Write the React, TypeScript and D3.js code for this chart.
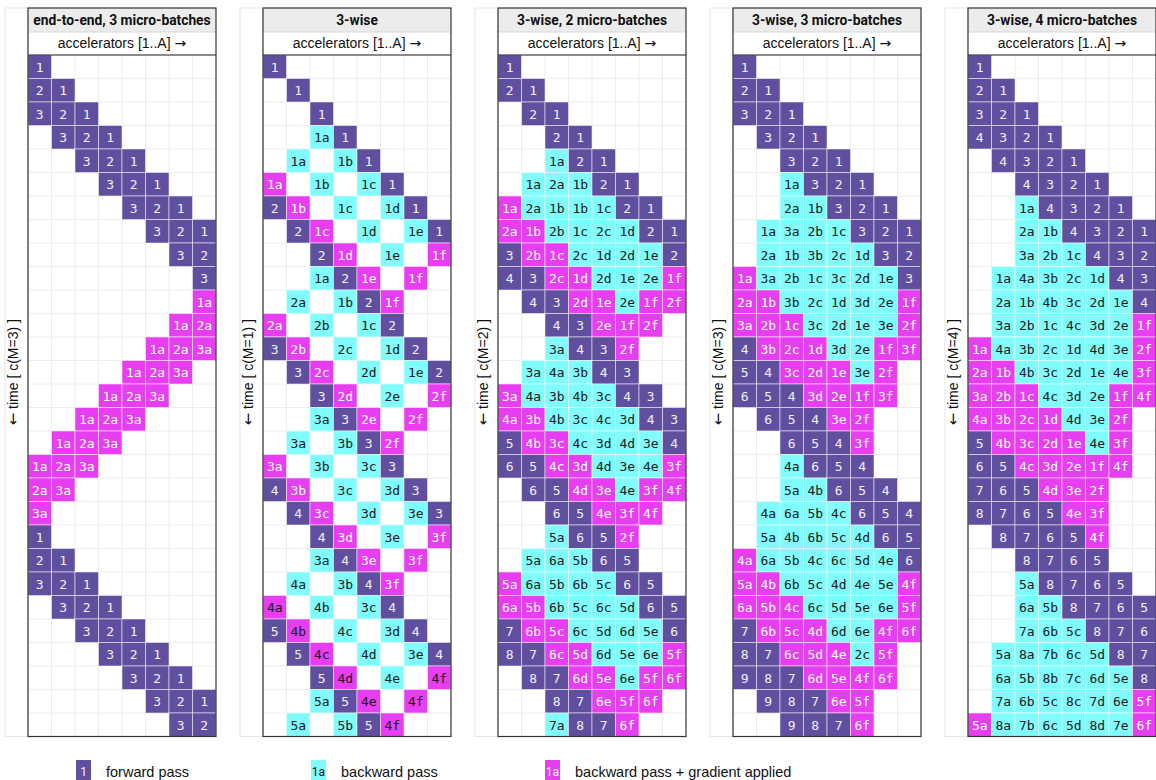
import React from "react";
import * as d3 from "d3";

// ---- data ----
// token: "." empty, digits = forward pass, "1a" = backward pass,
// "1a*" = backward + gradient applied, "1a+" = same with dark label
const titles = [
  "end-to-end, 3 micro-batches",
  "3-wise",
  "3-wise, 2 micro-batches",
  "3-wise, 3 micro-batches",
  "3-wise, 4 micro-batches",
];
const mValues = [3, 1, 2, 3, 4];
const accelerators = d3.range(8);
const timeSteps = d3.range(29);

const panel1Rows = [
  "1 . . . . . . .",
  "2 1 . . . . . .",
  "3 2 1 . . . . .",
  ". 3 2 1 . . . .",
  ". . 3 2 1 . . .",
  ". . . 3 2 1 . .",
  ". . . . 3 2 1 .",
  ". . . . . 3 2 1",
  ". . . . . . 3 2",
  ". . . . . . . 3",
  ". . . . . . . 1a*",
  ". . . . . . 1a* 2a*",
  ". . . . . 1a* 2a* 3a*",
  ". . . . 1a* 2a* 3a* .",
  ". . . 1a* 2a* 3a* . .",
  ". . 1a* 2a* 3a* . . .",
  ". 1a* 2a* 3a* . . . .",
  "1a* 2a* 3a* . . . . .",
  "2a* 3a* . . . . . .",
  "3a* . . . . . . .",
  "1 . . . . . . .",
  "2 1 . . . . . .",
  "3 2 1 . . . . .",
  ". 3 2 1 . . . .",
  ". . 3 2 1 . . .",
  ". . . 3 2 1 . .",
  ". . . . 3 2 1 .",
  ". . . . . 3 2 1",
  ". . . . . . 3 2",
];

const panel2Rows = [
  "1 . . . . . . .",
  ". 1 . . . . . .",
  ". . 1 . . . . .",
  ". . 1a 1 . . . .",
  ". 1a . 1b 1 . . .",
  "1a* . 1b . 1c 1 . .",
  "2 1b* . 1c . 1d 1 .",
  ". 2 1c* . 1d . 1e 1",
  ". . 2 1d* . 1e . 1f*",
  ". . 1a 2 1e* . 1f* .",
  ". 2a . 1b 2 1f* . .",
  "2a* . 2b . 1c 2 . .",
  "3 2b* . 2c . 1d 2 .",
  ". 3 2c* . 2d . 1e 2",
  ". . 3 2d* . 2e . 2f*",
  ". . 3a 3 2e* . 2f* .",
  ". 3a . 3b 3 2f* . .",
  "3a* . 3b . 3c 3 . .",
  "4 3b* . 3c . 3d 3 .",
  ". 4 3c* . 3d . 3e 3",
  ". . 4 3d* . 3e . 3f*",
  ". . 3a 4 3e* . 3f* .",
  ". 4a . 3b 4 3f* . .",
  "4a+ . 4b . 3c 4 . .",
  "5 4b+ . 4c . 3d 4 .",
  ". 5 4c+ . 4d . 3e 4",
  ". . 5 4d+ . 4e . 4f+",
  ". . 5a 5 4e+ . 4f+ .",
  ". 5a . 5b 5 4f+ . .",
];

const panel3Rows = [
  "1 . . . . . . .",
  "2 1 . . . . . .",
  ". 2 1 . . . . .",
  ". . 2 1 . . . .",
  ". . 1a 2 1 . . .",
  ". 1a 2a 1b 2 1 . .",
  "1a* 2a 1b 1b 1c 2 1 .",
  "2a* 1b* 2b 1c 2c 1d 2 1",
  "3 2b* 1c* 2c 1d 2d 1e 2",
  "4 3 2c* 1d* 2d 1e 2e 1f*",
  ". 4 3 2d* 1e* 2e 1f* 2f*",
  ". . 4 3 2e* 1f* 2f* .",
  ". . 3a 4 3 2f* . .",
  ". 3a 4a 3b 4 3 . .",
  "3a* 4a 3b 4b 3c 4 3 .",
  "4a* 3b* 4b 3c 4c 3d 4 3",
  "5 4b* 3c* 4c 3d 4d 3e 4",
  "6 5 4c* 3d* 4d 3e 4e 3f*",
  ". 6 5 4d* 3e* 4e 3f* 4f*",
  ". . 6 5 4e* 3f* 4f* .",
  ". . 5a 6 5 2f* . .",
  ". 5a 6a 5b 6 5 . .",
  "5a* 6a 5b 6b 5c 6 5 .",
  "6a* 5b* 6b 5c 6c 5d 6 5",
  "7 6b* 5c* 6c 5d 6d 5e 6",
  "8 7 6c* 5d* 6d 5e 6e 5f*",
  ". 8 7 6d* 5e* 6e 5f* 6f*",
  ". . 8 7 6e* 5f* 6f* .",
  ". . 7a 8 7 6f* . .",
];

const panel4Rows = [
  "1 . . . . . . .",
  "2 1 . . . . . .",
  "3 2 1 . . . . .",
  ". 3 2 1 . . . .",
  ". . 3 2 1 . . .",
  ". . 1a 3 2 1 . .",
  ". . 2a 1b 3 2 1 .",
  ". 1a 3a 2b 1c 3 2 1",
  ". 2a 1b 3b 2c 1d 3 2",
  "1a* 3a 2b 1c 3c 2d 1e 3",
  "2a* 1b* 3b 2c 1d 3d 2e 1f*",
  "3a* 2b* 1c* 3c 2d 1e 3e 2f*",
  "4 3b* 2c* 1d* 3d 2e 1f* 3f*",
  "5 4 3c* 2d* 1e* 3e 2f* .",
  "6 5 4 3d* 2e* 1f* 3f* .",
  ". 6 5 4 3e* 2f* . .",
  ". . 6 5 4 3f* . .",
  ". . 4a 6 5 4 . .",
  ". . 5a 4b 6 5 4 .",
  ". 4a 6a 5b 4c 6 5 4",
  ". 5a 4b 6b 5c 4d 6 5",
  "4a* 6a 5b 4c 6c 5d 4e 6",
  "5a* 4b* 6b 5c 4d 4e 5e 4f*",
  "6a* 5b* 4c* 6c 5d 5e 6e 5f*",
  "7 6b* 5c* 4d* 6d 6e 4f* 6f*",
  "8 7 6c* 5d* 4e* 2c 5f* .",
  "9 8 7 6d* 5e* 4f* 6f* .",
  ". 9 8 7 6e* 5f* . .",
  ". . 9 8 7 6f* . .",
];

const panel5Rows = [
  "1 . . . . . . .",
  "2 1 . . . . . .",
  "3 2 1 . . . . .",
  "4 3 2 1 . . . .",
  ". 4 3 2 1 . . .",
  ". . 4 3 2 1 . .",
  ". . 1a 4 3 2 1 .",
  ". . 2a 1b 4 3 2 1",
  ". . 3a 2b 1c 4 3 2",
  ". 1a 4a 3b 2c 1d 4 3",
  ". 2a 1b 4b 3c 2d 1e 4",
  ". 3a 2b 1c 4c 3d 2e 1f*",
  "1a* 4a 3b 2c 1d 4d 3e 2f*",
  "2a* 1b* 4b 3c 2d 1e 4e 3f*",
  "3a* 2b* 1c* 4c 3d 2e 1f* 4f*",
  "4a* 3b* 2c* 1d* 4d 3e 2f* .",
  "5 4b* 3c* 2d* 1e* 4e 3f* .",
  "6 5 4c* 3d* 2e* 1f* 4f* .",
  "7 6 5 4d* 3e* 2f* . .",
  "8 7 6 5 4e* 3f* . .",
  ". 8 7 6 5 4f* . .",
  ". . 8 7 6 5 . .",
  ". . 5a 8 7 6 5 .",
  ". . 6a 5b 8 7 6 5",
  ". . 7a 6b 5c 8 7 6",
  ". 5a 8a 7b 6c 5d 8 7",
  ". 6a 5b 8b 7c 6d 5e 8",
  ". 7a 6b 5c 8c 7d 6e 5f*",
  "5a* 8a 7b 6c 5d 8d 7e 6f*",
];

const panels = [panel1Rows, panel2Rows, panel3Rows, panel4Rows, panel5Rows];

const legendLabels = ["forward pass", "backward pass", "backward pass + gradient applied"];
const legendSamples = ["1", "1a", "1a*"];

// ---- styling ----
const COLORS = { fwd: "#604f9f", bwd: "#80fcfc", grad: "#e63ef0" };
const CELL_FONT = "'DejaVu Sans Mono', monospace";
const SANS = "Roboto, 'Liberation Sans', Arial, sans-serif";
const LSANS = "'Liberation Sans', Arial, sans-serif";
const ARROW_FONT = "'DejaVu Sans', sans-serif";

function parseToken(tok: string) {
  if (tok === ".") return null;
  if (tok.endsWith("*")) return { label: tok.slice(0, -1), fill: COLORS.grad, text: "#ffffff" };
  if (tok.endsWith("+")) return { label: tok.slice(0, -1), fill: COLORS.grad, text: "#1a1a1a" };
  if (/^\d+$/.test(tok)) return { label: tok, fill: COLORS.fwd, text: "#f2f0f8" };
  return { label: tok, fill: COLORS.bwd, text: "#1a1a1a" };
}

const CELL = 23.5;
const GRID_TOP = 55;
const PANEL_TOP = 8;
const PANEL_STEP = 235;
const FIRST_X = 28;

function Panel({ index }: { index: number }) {
  const x0 = FIRST_X + index * PANEL_STEP;
  const width = CELL * accelerators.length;
  const xScale = d3.scaleBand<number>().domain(accelerators).range([0, width]).padding(0);
  const yScale = d3
    .scaleBand<number>()
    .domain(timeSteps)
    .range([GRID_TOP, GRID_TOP + CELL * timeSteps.length])
    .padding(0);
  const gridBottom = GRID_TOP + CELL * timeSteps.length;
  const rows = panels[index];
  const cells: any[] = [];
  rows.forEach((row, r) => {
    row.split(" ").forEach((tok, c) => {
      const p = parseToken(tok);
      if (p) cells.push({ r, c, ...p });
    });
  });
  const labelCenterY = (PANEL_TOP + gridBottom) / 2;
  return (
    <g>
      {/* y-axis strip */}
      <rect x={x0 - 23} y={PANEL_TOP} width={23} height={gridBottom - PANEL_TOP} fill="#fff" stroke="#e6e6e6" strokeWidth={1} />
      <text
        transform={`translate(${x0 - 10},${labelCenterY}) rotate(-90)`}
        textAnchor="middle"
        fontFamily={LSANS}
        fontSize={14}
        fill="#111"
      >
        <tspan fontFamily={ARROW_FONT} fontSize={15}>←</tspan>
        {` time [ c(M=${mValues[index]}) ]`}
      </text>
      <g transform={`translate(${x0},0)`}>
        {/* title band */}
        <rect x={0} y={PANEL_TOP} width={width} height={24} fill="#ececec" />
        <text x={width / 2} y={PANEL_TOP + 17} textAnchor="middle" fontFamily={SANS} fontWeight={700} fontSize={13.8} fill="#111">
          {titles[index]}
        </text>
        <rect x={0} y={32} width={width} height={GRID_TOP - 32} fill="#fff" />
        <line x1={0} x2={width} y1={32} y2={32} stroke="#d8d8d8" />
        <text x={width / 2} y={48} textAnchor="middle" fontFamily={LSANS} fontSize={14} fill="#111">
          accelerators [1..A]{" "}
          <tspan fontFamily={ARROW_FONT} fontSize={14}>→</tspan>
        </text>
        {/* grid */}
        <rect x={0} y={GRID_TOP} width={width} height={gridBottom - GRID_TOP} fill="#fff" />
        {accelerators.map((a) => (
          <line key={"v" + a} x1={xScale(a)!} x2={xScale(a)!} y1={GRID_TOP} y2={gridBottom} stroke="#ececec" />
        ))}
        {timeSteps.map((t) => (
          <line key={"h" + t} x1={0} x2={width} y1={yScale(t)!} y2={yScale(t)!} stroke="#ececec" />
        ))}
        {/* cells */}
        {cells.map((d, i) => (
          <g key={i}>
            <rect
              x={xScale(d.c)!}
              y={yScale(d.r)!}
              width={xScale.bandwidth()}
              height={yScale.bandwidth()}
              fill={d.fill}
              stroke="rgba(255,255,255,0.5)"
              strokeWidth={1}
            />
            <text
              x={xScale(d.c)! + xScale.bandwidth() / 2}
              y={yScale(d.r)! + yScale.bandwidth() / 2 + 5}
              textAnchor="middle"
              fontFamily={CELL_FONT}
              fontSize={13}
              fill={d.text}
            >
              {d.label}
            </text>
          </g>
        ))}
        {/* frame */}
        <line x1={0} x2={width} y1={GRID_TOP} y2={GRID_TOP} stroke="#222" />
        <rect x={0} y={PANEL_TOP} width={width} height={gridBottom - PANEL_TOP} fill="none" stroke="#333" strokeWidth={1.2} />
      </g>
    </g>
  );
}

function Legend() {
  const xs = [76, 311, 545];
  return (
    <g>
      {legendSamples.map((s, i) => {
        const p = parseToken(s)!;
        return (
          <g key={i}>
            <rect x={xs[i]} y={760} width={15} height={24} fill={p.fill} />
            <text x={xs[i] + 7.5} y={776} textAnchor="middle" fontFamily={SANS} fontSize={12} fill={p.text}>
              {p.label}
            </text>
            <text x={xs[i] + 30} y={777} fontFamily={LSANS} fontSize={14.5} fill="#111">
              {legendLabels[i]}
            </text>
          </g>
        );
      })}
    </g>
  );
}

export default function App() {
  return (
    <svg
      width={1156}
      height={780}
      style={{ position: "absolute", left: 0, top: 0, background: "#fff" }}
    >
      {titles.map((_, i) => (
        <Panel key={i} index={i} />
      ))}
      <Legend />
    </svg>
  );
}
